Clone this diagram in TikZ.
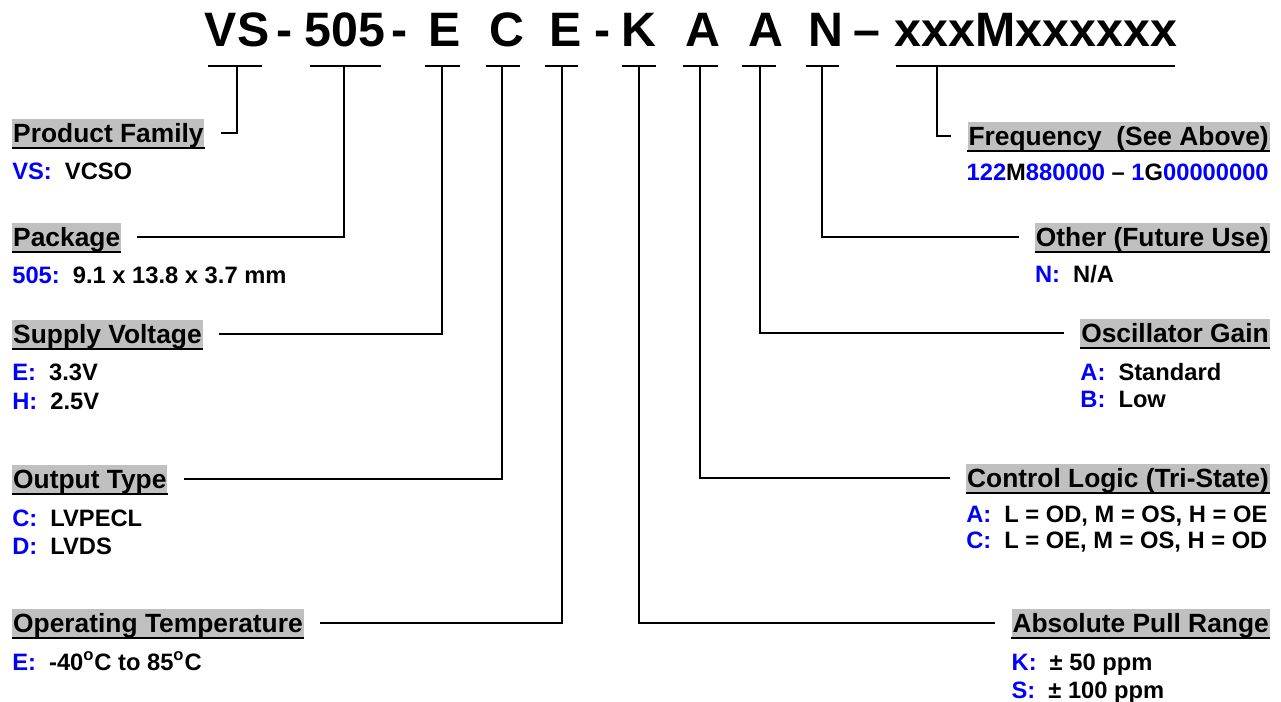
\documentclass[tikz,border=0pt]{standalone}
\usepackage{fontspec}
\setmainfont{Liberation Sans}
\definecolor{codeblue}{RGB}{0,0,255}
\definecolor{headgray}{RGB}{192,192,192}
\newcommand{\opt}[2]{{\color{codeblue}#1:}\hspace{0.55em}#2}
\begin{document}
\begin{tikzpicture}[x=0.02cm,y=-0.02cm]
% Styles
\tikzset{part/.style={font=\bfseries\fontsize{27.5}{30}\selectfont, inner sep=0pt, anchor=base}}
\tikzset{headbox/.style={fill=headgray, font=\bfseries\fontsize{15}{18}\selectfont,
  inner xsep=0.5pt, inner ysep=0pt, text height=13.5pt, text depth=2.5pt,
  append after command={([yshift=-0.5pt]\tikzlastnode.south west) edge[line width=1.3pt] ([yshift=-0.5pt]\tikzlastnode.south east)}}}
\tikzset{optline/.style={font=\bfseries\fontsize{13.5}{16}\selectfont, inner sep=0pt, anchor=base west}}
\tikzset{bar/.style={line width=1.1pt}}
\tikzset{lead/.style={line width=0.9pt, shorten >=0.32cm}}
\useasboundingbox (0,0) rectangle (1281,702);

% the part number
\node[part] (vs) at (237,47) {VS};
\node[part] (d1) at (285,47) {-};
\node[part] (pk) at (345,47) {505};
\node[part] (d2) at (400,47) {-};
\node[part] (sv) at (445,47) {E};
\node[part] (ot) at (507,47) {C};
\node[part] (tp) at (566,47) {E};
\node[part] (d3) at (603,47) {-};
\node[part] (pr) at (639,47) {K};
\node[part] (cl) at (703,47) {A};
\node[part] (og) at (766,47) {A};
\node[part] (ou) at (826,47) {N};
\node[part] (d4) at (867,47) {--};
\node[part] (fq) at (1036,47) {xxxMxxxxxx};

% the bars under each field
\foreach \p/\a/\b/\t in {vs/208/262/237, pk/310/381/344, sv/425/460/442, ot/486/520/502,
  tp/545/578/562, pr/622/656/639, cl/683/718/700, og/742/776/760, ou/806/839/822, fq/896/1175/937} {
\draw[bar] (\a,66) -- (\b,66);
\coordinate (\p-tap) at (\t,66);
}

% headings -- left
\node[headbox, anchor=west] (vs-head) at (12,133) {Product Family};
\node[headbox, anchor=west] (pk-head) at (12,237) {Package};
\node[headbox, anchor=west] (sv-head) at (12,334) {Supply Voltage};
\node[headbox, anchor=west] (ot-head) at (12,479) {Output Type};
\node[headbox, anchor=west] (tp-head) at (12,623) {Operating Temperature};
% headings -- right
\node[headbox, anchor=east] (fq-head) at (1270,136) {Frequency\ \ (See Above)};
\node[headbox, anchor=east] (ou-head) at (1270,237) {Other (Future Use)};
\node[headbox, anchor=east] (og-head) at (1270,333) {Oscillator Gain};
\node[headbox, anchor=east] (cl-head) at (1270,478) {Control Logic (Tri-State)};
\node[headbox, anchor=east] (pr-head) at (1270,623) {Absolute Pull Range};

% the leads
\foreach \p in {vs,pk,sv,ot,tp,pr,cl,og,ou,fq} {
\draw[lead] (\p-tap) |- (\p-head);
}

% the options -- left
\node[optline] (vs-opt) at (12,180) {\opt{VS}{VCSO}};
\node[optline] (pk-opt) at (12,284) {\opt{505}{9.1 x 13.8 x 3.7 mm}};
\node[optline] (sv-opt1) at (12,380) {\opt{E}{3.3V}};
\node[optline] (sv-opt2) at (12,409) {\opt{H}{2.5V}};
\node[optline] (ot-opt1) at (12,526) {\opt{C}{LVPECL}};
\node[optline] (ot-opt2) at (12,554) {\opt{D}{LVDS}};
\node[optline] (tp-opt) at (12,670) {\opt{E}{-40\textsuperscript{o}C to 85\textsuperscript{o}C}};
% the options -- right
\node[optline, anchor=base east] (fq-opt) at (1269,181) {{\color{codeblue}122}M{\color{codeblue}880000} -- {\color{codeblue}1}G{\color{codeblue}00000000}};
\node[optline] (ou-opt) at (ou-head.west |- 0,283) {\opt{N}{N/A}};
\node[optline] (og-opt1) at (og-head.west |- 0,380) {\opt{A}{Standard}};
\node[optline] (og-opt2) at (og-head.west |- 0,407) {\opt{B}{Low}};
\node[optline] (cl-opt1) at (cl-head.west |- 0,522) {\opt{A}{L = OD, M = OS, H = OE}};
\node[optline] (cl-opt2) at (cl-head.west |- 0,548) {\opt{C}{L = OE, M = OS, H = OD}};
\node[optline] (pr-opt1) at (pr-head.west |- 0,670) {\opt{K}{± 50 ppm}};
\node[optline] (pr-opt2) at (pr-head.west |- 0,698) {\opt{S}{± 100 ppm}};
\end{tikzpicture}
\end{document}
